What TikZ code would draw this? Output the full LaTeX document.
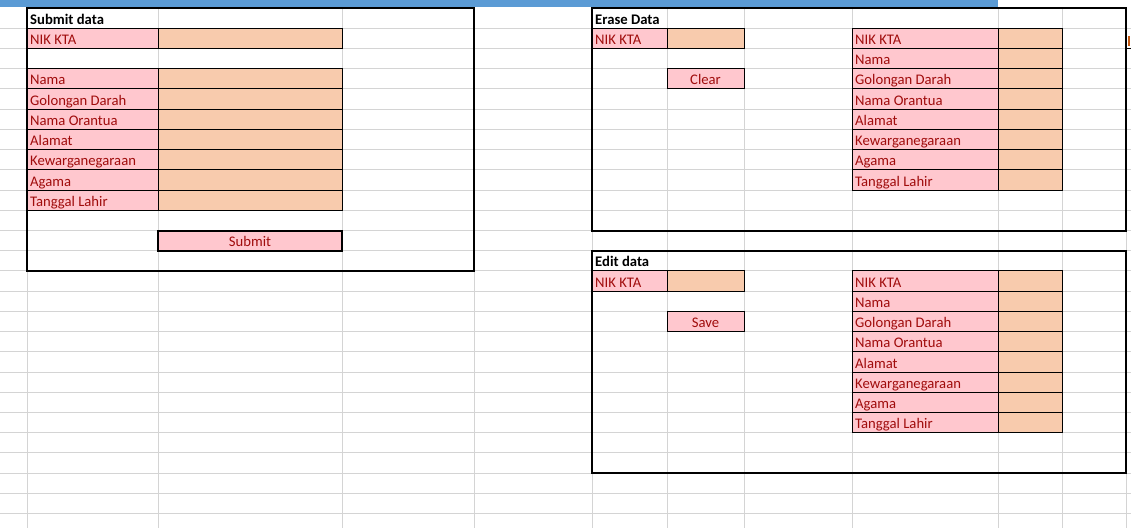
\documentclass[tikz,border=0pt]{standalone}
\usepackage{fontspec}
\setmainfont{Carlito}
\definecolor{gridc}{HTML}{D4D4D4}
\definecolor{pinkc}{HTML}{FFC7CE}
\definecolor{orangec}{HTML}{F8CBAD}
\definecolor{redt}{HTML}{A00C0C}
\definecolor{barc}{HTML}{5B9BD5}
\definecolor{brownc}{HTML}{C55A11}
\tikzset{
  gridline/.style={draw=gridc, line width=1pt},
  cellb/.style={draw=black, line width=1pt},
  framebox/.style={draw=black, line width=2pt},
  lab/.style={anchor=base west, inner sep=0pt, text=redt, font=\fontsize{14.67pt}{16pt}\selectfont},
  btn/.style={anchor=base, inner sep=0pt, text=redt, font=\fontsize{14.67pt}{16pt}\selectfont},
  head/.style={anchor=base west, inner sep=0pt, text=black, font=\fontsize{14.67pt}{16pt}\selectfont\bfseries},
}
% #1 x1, #2 x2, #3 row, #4 fill
\newcommand\mycell[4]{\draw[cellb, fill=#4] (#1,#3+0.4) rectangle (#2,#3+1.4);}
\begin{document}
\begin{tikzpicture}[x=1pt,y=-20.22pt]
\useasboundingbox[fill=white] (0,0) rectangle (1131,26.063);
% grid
\foreach \k in {1,...,25} \draw[gridline] (0,\k+0.4) -- (1131,\k+0.4);
\foreach \c in {27,158,342,474,592,667,744,852,998,1062,1126} \draw[gridline] (\c,0.37) -- (\c,26.1);
% blue bar
\fill[barc] (0,0) rectangle (998,0.36);
% ---------------- Submit data ----------------
\foreach \k/\t [count=\i] in {1/NIK KTA,3/Nama,4/Golongan Darah,5/Nama Orantua,6/Alamat,7/Kewarganegaraan,8/Agama,9/Tanggal Lahir}{
  \mycell{27}{158}{\k}{pinkc}
  \mycell{158}{342}{\k}{orangec}
  \node[lab] (sl\i) at (30,\k+1.2) {\t};
}
\draw[framebox, fill=pinkc] (158,11.4) rectangle (342,12.4);
\node[btn] (submit) at (250,12.2) {Submit};
\draw[framebox] (27,0.4) rectangle (474,13.4);
\node[head] (hsubmit) at (30,1.2) {Submit data};
% ---------------- Erase Data ----------------
\mycell{592}{667}{1}{pinkc}
\mycell{667}{744}{1}{orangec}
\node[lab] (enik) at (595,2.2) {NIK KTA};
\mycell{667}{744}{3}{pinkc}
\node[btn] (clear) at (705.5,4.2) {Clear};
\foreach \t [count=\i] in {NIK KTA,Nama,Golongan Darah,Nama Orantua,Alamat,Kewarganegaraan,Agama,Tanggal Lahir}{
  \mycell{852}{998}{\i}{pinkc}
  \mycell{998}{1062}{\i}{orangec}
  \node[lab] (el\i) at (855,\i+1.2) {\t};
}
\draw[framebox] (592,0.4) rectangle (1126,11.4);
\node[head] (herase) at (595,1.2) {Erase Data};
% partial cell at right edge
\draw[cellb] (1126,2.4) -- (1131,2.4);
\fill[brownc] (1128.3,1.8) rectangle (1129.8,2.25);
% ---------------- Edit data ----------------
\mycell{592}{667}{13}{pinkc}
\mycell{667}{744}{13}{orangec}
\node[lab] (dnik) at (595,14.2) {NIK KTA};
\mycell{667}{744}{15}{pinkc}
\node[btn] (save) at (705.5,16.2) {Save};
\foreach \t [count=\i] in {NIK KTA,Nama,Golongan Darah,Nama Orantua,Alamat,Kewarganegaraan,Agama,Tanggal Lahir}{
  \pgfmathtruncatemacro\r{\i+12}
  \mycell{852}{998}{\r}{pinkc}
  \mycell{998}{1062}{\r}{orangec}
  \node[lab] (dl\i) at (855,\r+1.2) {\t};
}
\draw[framebox] (592,12.4) rectangle (1126,23.4);
\node[head] (hedit) at (595,13.2) {Edit data};
\end{tikzpicture}
\end{document}
